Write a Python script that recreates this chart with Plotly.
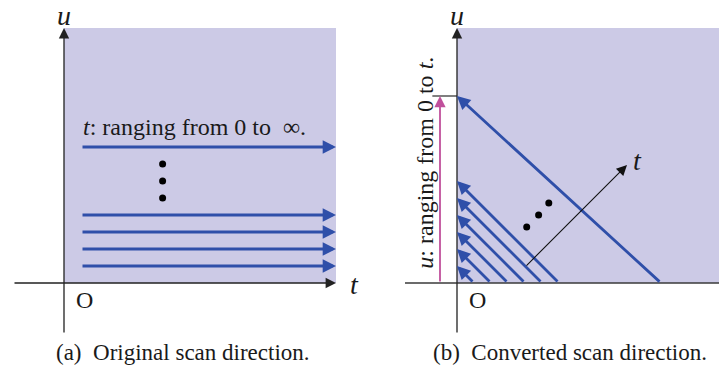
import plotly.graph_objects as go

# ---- data (diagram units) ----
left_levels = [1, 2, 3, 4, 8]          # u-levels of horizontal scan arrows
left_arrow_t0 = 1
left_arrow_t1 = 16
left_dot_t = [5.8, 5.8, 5.8]
left_dot_u = [5, 6, 7]

right_start_t = [1, 2, 3, 4, 5, 6, 12]   # where diagonal scans start on t-axis
right_end_u = [1, 2, 3, 4, 5, 6, 11]     # where they end on u-axis
right_dot_t = [4.1, 4.8, 5.4]
right_dot_u = [3.3, 4.0, 4.7]
t_dir_start = [4, 0.94]
t_dir_end = [10, 6.94]
u_range_top = 11

captions = ["(a)  Original scan direction.", "(b)  Converted scan direction."]

W, H = 719, 367
UNIT = 17.0
SPLIT = 360
OX_L, OX_R, OY = 64, 457, 283

shade = "#cccae6"
blue = "#2f4fa9"
axis_col = "#3a3a3a"
pink = "#c0509c"
FONT = "Liberation Serif"

def xr(ox, p0, p1):
    return [(p0 - ox) / UNIT, (p1 - ox) / UNIT]

fig = go.Figure()

layout = dict(
    width=W, height=H, margin=dict(l=0, r=0, t=0, b=0),
    paper_bgcolor="white", plot_bgcolor="rgba(0,0,0,0)",
    showlegend=False,
    xaxis=dict(domain=[0, SPLIT / W], range=xr(OX_L, 0, SPLIT), visible=False),
    xaxis2=dict(domain=[SPLIT / W, 1], range=xr(OX_R, SPLIT, W), visible=False, anchor="y"),
    yaxis=dict(domain=[0, 1], range=[(OY - H) / UNIT, OY / UNIT], visible=False),
)

shapes = []
ann = []

# background regions
shapes.append(dict(type="rect", xref="x", yref="y", x0=0, x1=16, y0=0, y1=15,
                   fillcolor=shade, line_width=0, layer="below"))
shapes.append(dict(type="rect", xref="x2", yref="y", x0=0, x1=16, y0=0, y1=15,
                   fillcolor=shade, line_width=0, layer="below"))

def arrow(xref, x0, y0, x1, y1, color, width, size, head=2):
    ann.append(dict(xref=xref, yref="y", axref=xref, ayref="y",
                    x=x1, y=y1, ax=x0, ay=y0, text="", showarrow=True,
                    arrowhead=head, arrowsize=size, arrowwidth=width,
                    arrowcolor=color, standoff=0, startstandoff=0))

# left axes
arrow("x", 0, -3, 0, 15, "#222222", 1.3, 1.6)
arrow("x", -3, 0, 16, 0, "#222222", 1.3, 1.6)
# right axes
arrow("x2", 0, -3, 0, 15, "#222222", 1.3, 1.6)
shapes.append(dict(type="line", xref="x2", yref="y", x0=-3.06, x1=15.45, y0=0, y1=0,
                   line=dict(color=axis_col, width=1.3)))

# left scan arrows
for u in left_levels:
    arrow("x", left_arrow_t0, u, left_arrow_t1, u, blue, 2.8, 0.95)
fig.add_trace(go.Scatter(x=left_dot_t, y=left_dot_u, xaxis="x", yaxis="y", mode="markers",
                         marker=dict(color="black", size=7), hoverinfo="skip"))

# right diagonal scan arrows
for t0, u1 in zip(right_start_t, right_end_u):
    arrow("x2", t0, 0, 0, u1, blue, 2.8, 0.95)
fig.add_trace(go.Scatter(x=right_dot_t, y=right_dot_u, xaxis="x2", yaxis="y", mode="markers",
                         marker=dict(color="black", size=7), hoverinfo="skip"))

# t direction arrow
arrow("x2", t_dir_start[0], t_dir_start[1], t_dir_end[0], t_dir_end[1], "#111111", 1.1, 1.9)

# pink u-range arrow and tick
shapes.append(dict(type="line", xref="x2", yref="y", x0=-1.45, x1=0, y0=u_range_top, y1=u_range_top,
                   line=dict(color=axis_col, width=1.3)))
arrow("x2", -1.0, 0, -1.0, u_range_top, pink, 1.8, 1.25)

def text(xref, x, y, s, size, xanchor="center", yanchor="middle", angle=0):
    ann.append(dict(xref=xref, yref="y", x=x, y=y, text=s, showarrow=False,
                    xanchor=xanchor, yanchor=yanchor, textangle=angle,
                    font=dict(family=FONT, size=size, color="#1a1a1a")))

# labels
text("x", 0, 15.75, "<i>u</i>", 28)
text("x", 17.1, -0.1, "<i>t</i>", 28)
text("x", 1.2, -1.0, "O", 24)
text("x", 1.0, 9.2, "<i>t</i>: ranging from 0 to  ∞.", 24, xanchor="left")
text("x", 7.0, -4.1, captions[0], 23)

text("x2", 0, 15.75, "<i>u</i>", 28)
text("x2", 10.6, 7.2, "<i>t</i>", 28)
text("x2", 1.2, -1.0, "O", 24)
text("x2", -1.9, 7.06, "<i>u</i>: ranging from 0 to <i>t</i>.", 24, angle=-90)
text("x2", 6.65, -4.1, captions[1], 23)

layout["shapes"] = shapes
layout["annotations"] = ann
fig.update_layout(**layout)

fig.write_html("out.html", config={"displayModeBar": False, "staticPlot": True},
               post_script="document.body.style.margin='0';document.body.style.overflow='hidden';")
